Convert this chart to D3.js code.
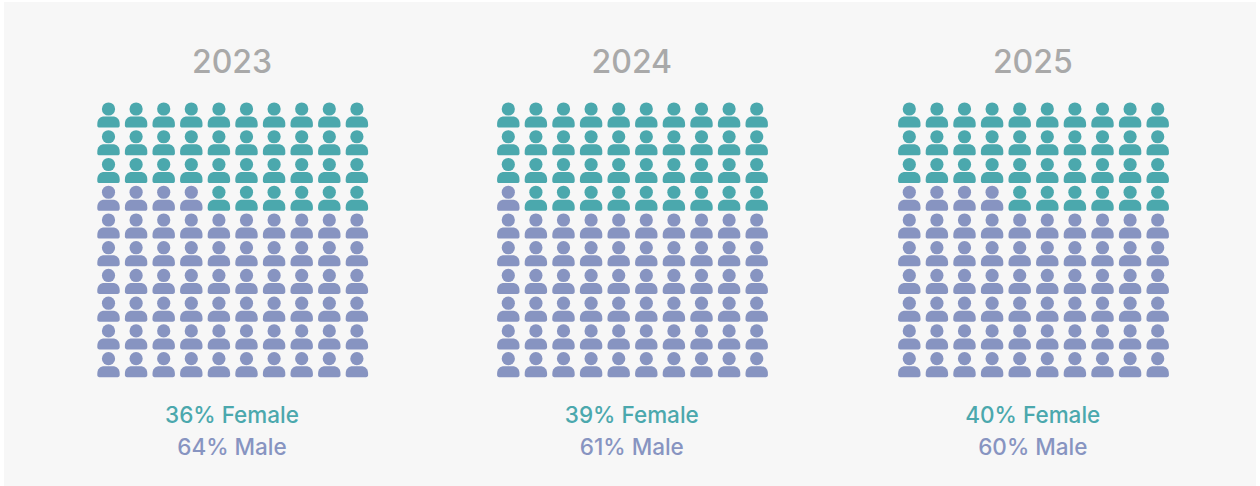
<!DOCTYPE html>
<html>
<head>
<meta charset="utf-8">
<script src="https://cdn.jsdelivr.net/npm/d3@7"></script>
<style>
  html, body { margin: 0; padding: 0; background: #fff; }
  svg { display: block; }
  text { font-family: "Inter", "Noto Sans", sans-serif; }
</style>
</head>
<body>
<svg id="chart" width="1260" height="486"></svg>
<script>
const years = ["2023", "2024", "2025"];
const femaleLabels = [36, 39, 40];
const maleLabels = [64, 61, 60];
// teal icons actually drawn in each grid, counted off the picture
const femaleIcons = [36, 39, 36];
const gridRows = d3.range(10);
const gridCols = d3.range(10);

const teal = "#4ba8ad";
const purple = "#8794c1";

const svg = d3.select("#chart");
svg.append("rect").attr("x", 4).attr("y", 2).attr("width", 1252).attr("height", 484).attr("fill", "#f7f7f7");

// panels are not quite evenly spaced in the original
const panelX = d3.scaleOrdinal().domain(years).range([232.7, 632.5, 1033.5]);
const x = d3.scalePoint().domain(gridCols).range([-124.2, 124.2]);
const y = d3.scalePoint().domain(gridRows).range([109, 358.7]);

// person icon: shoulders only, the head is a circle at 0,0
const personPath = "M-11.2,15 C-11.2,10 -8.4,7.5 -4,7.5 H4 C8.4,7.5 11.2,10 11.2,15 V16.4 C11.2,17.7 10.3,18.5 9,18.5 H-9 C-10.3,18.5 -11.2,17.7 -11.2,16.4 Z";

years.forEach((year, p) => {
    const panel = svg.append("g").attr("transform", `translate(${panelX(year)},0)`);

    panel.append("text")
        .attr("x", -0.7).attr("y", 73).attr("text-anchor", "middle")
        .attr("font-size", 32).attr("font-weight", 500).attr("fill", "#a9a9a9")
        .text(year);

    const cells = gridRows.flatMap(r => gridCols.map(c => ({ r, c, idx: r * 10 + (9 - c) })));
    const icons = panel.selectAll("g.person").data(cells).enter().append("g")
        .attr("class", "person")
        .attr("transform", d => `translate(${x(d.c)},${y(d.r)})`)
        .attr("fill", d => d.idx < femaleIcons[p] ? teal : purple);
    icons.append("circle").attr("r", 6.6);
    icons.append("path").attr("d", personPath);

    panel.append("text")
        .attr("x", -0.7).attr("y", 422.5).attr("text-anchor", "middle")
        .attr("font-size", 22.5).attr("font-weight", 500).attr("fill", teal)
        .text(`${femaleLabels[p]}% Female`);
    panel.append("text")
        .attr("x", -0.7).attr("y", 454.5).attr("text-anchor", "middle")
        .attr("font-size", 22.5).attr("font-weight", 500).attr("fill", purple)
        .text(`${maleLabels[p]}% Male`);
});
</script>
</body>
</html>
